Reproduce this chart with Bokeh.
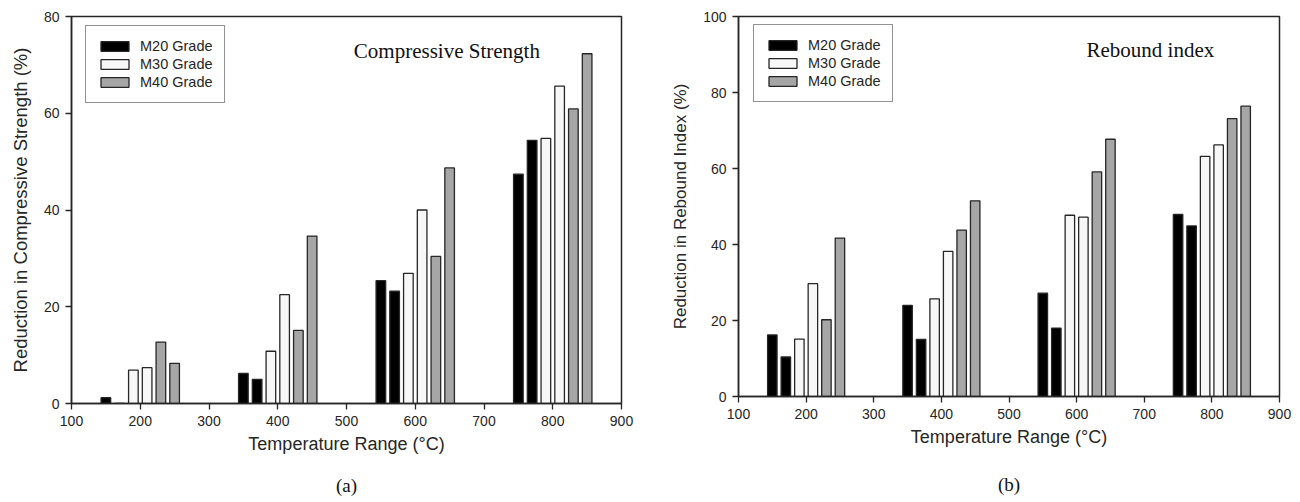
from bokeh.plotting import figure
from bokeh.layouts import row
from bokeh.models import Label, Title, Legend, LegendItem, FixedTicker, Range1d
from bokeh.embed import file_html
from bokeh.resources import INLINE

# ---- data ----
grades = ["M20 Grade", "M30 Grade", "M40 Grade"]
x_m20 = [150, 170, 350, 370, 550, 570, 750, 770]
x_m30 = [190, 210, 390, 410, 590, 610, 790, 810]
x_m40 = [230, 250, 430, 450, 630, 650, 830, 850]

cs_m20 = [1.2, 0.0, 6.2, 5.0, 25.4, 23.2, 47.4, 54.4]
cs_m30 = [6.9, 7.4, 10.8, 22.5, 26.9, 40.0, 54.8, 65.6]
cs_m40 = [12.7, 8.3, 15.1, 34.6, 30.4, 48.7, 60.9, 72.3]

rb_m20 = [16.2, 10.4, 24.0, 15.0, 27.2, 18.0, 47.9, 44.9]
rb_m30 = [15.1, 29.7, 25.7, 38.2, 47.7, 47.2, 63.2, 66.2]
rb_m40 = [20.2, 41.7, 43.8, 51.5, 59.1, 67.7, 73.1, 76.4]

x_ticks = [100, 200, 300, 400, 500, 600, 700, 800, 900]
cs_ticks = [0, 20, 40, 60, 80]
rb_ticks = [0, 20, 40, 60, 80, 100]

SANS = "Liberation Sans"
SERIF = "Liberation Serif"
DARK = "#262626"
fills = ["#000000", "#f7f7f7", "#a6a6a6"]


def make_panel(vals, ymax, yticks, ylabel, title, sub, fw, fh, bl, br, bt, bb,
               leg_loc, title_xy, ylab_size, xlab_size, sub_standoff):
    p = figure(frame_width=fw, frame_height=fh, min_border_left=bl, min_border_right=br,
               min_border_top=bt, min_border_bottom=bb,
               x_range=Range1d(100, 900), y_range=Range1d(0, ymax),
               output_backend="svg", toolbar_location=None, tools="")
    p.background_fill_color = "white"
    p.border_fill_color = "white"
    p.outline_line_color = DARK
    p.outline_line_width = 1.5
    p.grid.visible = False

    items = []
    for xs, ys, col, name in zip([x_m20, x_m30, x_m40], vals, fills, grades):
        r = p.vbar(x=xs, top=ys, bottom=0, width=14, fill_color=col,
                   line_color=DARK, line_width=1.3)
        items.append(LegendItem(label=name, renderers=[r]))

    for ax in (p.xaxis[0], p.yaxis[0]):
        ax.axis_line_color = DARK
        ax.axis_line_width = 1.5
        ax.major_tick_line_color = DARK
        ax.major_tick_line_width = 1.3
        ax.major_tick_out = 6
        ax.major_tick_in = 0
        ax.minor_tick_line_color = None
        ax.major_label_text_font = SANS
        ax.major_label_text_font_size = "14px"
        ax.major_label_text_color = DARK
        ax.major_label_standoff = 6
        ax.axis_label_text_font = SANS
        ax.axis_label_text_font_style = "normal"
        ax.axis_label_text_color = DARK

    p.xaxis.axis_label_text_font_size = xlab_size
    p.yaxis.axis_label_text_font_size = ylab_size
    p.xaxis.ticker = FixedTicker(ticks=x_ticks)
    p.yaxis.ticker = FixedTicker(ticks=yticks)
    p.xaxis.axis_label = "Temperature Range (\u00b0C)"
    p.yaxis.axis_label = ylabel
    p.xaxis.axis_label_standoff = 5
    p.yaxis.axis_label_standoff = 10

    leg = Legend(items=items, location=leg_loc, orientation="vertical")
    leg.border_line_color = DARK
    leg.border_line_width = 1.5
    leg.background_fill_alpha = 1.0
    leg.label_text_font = SANS
    leg.label_text_font_size = "14.5px"
    leg.label_text_color = DARK
    leg.glyph_width = 35
    leg.glyph_height = 12
    leg.label_height = 18
    leg.spacing = 0
    leg.padding = 11
    leg.margin = 0
    leg.label_standoff = 8
    p.add_layout(leg)

    p.add_layout(Label(x=title_xy[0], y=title_xy[1], text=title, text_font=SERIF,
                       text_font_size="21px", text_color="#111111",
                       text_align="center", text_baseline="middle"))

    p.add_layout(Title(text=sub, align="center", text_font=SERIF, text_font_size="19px",
                       text_font_style="normal", text_color="#111111",
                       standoff=sub_standoff), "below")
    return p


pa = make_panel([cs_m20, cs_m30, cs_m40], 80, cs_ticks,
                "Reduction in Compressive Strength (%)", "Compressive Strength", "(a)",
                550, 387, 71, 39, 15, 100, (14, 300), (646, 72.9), "18.5px", "18px", 32)
pb = make_panel([rb_m20, rb_m30, rb_m40], 100, rb_ticks,
                "Reduction in Rebound Index (%)", "Rebound index", "(b)",
                541, 380, 78, 21, 16, 106, (15, 294), (709, 91.2), "17px", "18px", 45)

layout = row(pa, pb)
open("out.html", "w").write(file_html(layout, INLINE))
